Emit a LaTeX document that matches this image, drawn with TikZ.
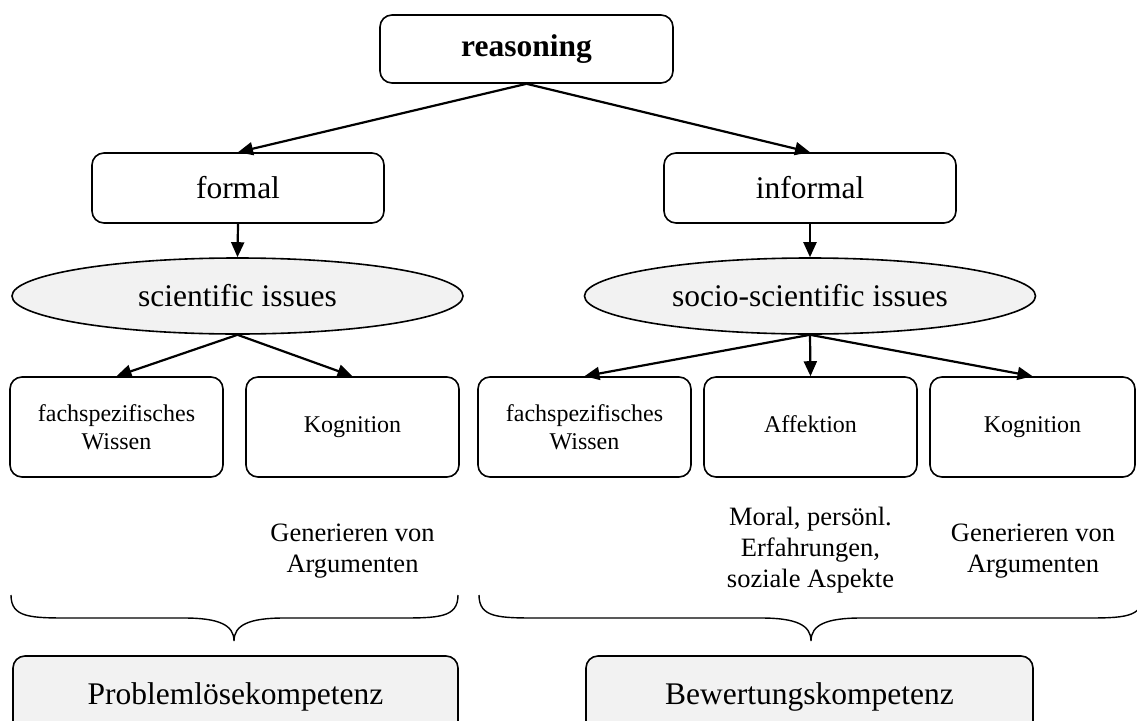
\documentclass[tikz,border=0pt]{standalone}
\usepackage{fontspec}
\setmainfont{Liberation Serif}
\usetikzlibrary{shapes.geometric,arrows.meta}
\definecolor{paleg}{HTML}{F2F2F2}
\begin{document}
\begin{tikzpicture}[x=1pt,y=-1pt,
  box/.style={draw, line width=1.6pt, rounded corners=12pt, inner sep=0pt, align=center},
  topbox/.style={box, minimum width=292pt, minimum height=70pt, font=\fontsize{31.5}{36}\selectfont},
  issue/.style={draw, ellipse, line width=1.6pt, fill=paleg, inner sep=0pt, minimum width=451pt, minimum height=76pt, font=\fontsize{31.5}{36}\selectfont},
  leaf/.style={box, minimum height=100pt, font=\fontsize{24}{28}\selectfont},
  oneline/.style={text height=16pt, text depth=5pt},
  note/.style={align=center, inner sep=0pt, font=\fontsize{26.5}{31}\selectfont},
  comp/.style={box, fill=paleg, minimum height=82pt, font=\fontsize{31.5}{36}\selectfont},
  arr/.style={-{Triangle[length=15pt,width=13pt]}, line width=2.2pt},
  brace/.style={line width=1.4pt}
]
\clip (0,0) rectangle (1137,720);

\node[box, minimum width=293pt, minimum height=68pt, font=\fontsize{31.5}{36}\selectfont\bfseries] (reason) at (526.5,49) {reasoning};
\node[topbox] (formal) at (238,188) {formal};
\node[topbox] (informal) at (810,188) {informal};

\node[issue] (sci) at (237.5,296) {scientific issues};
\node[issue] (socio) at (810,296) {socio-scientific issues};

\node[leaf, minimum width=213pt] (fach1) at (116.5,427) {fachspezifisches\\Wissen};
\node[leaf, oneline, minimum width=213pt] (kog1) at (352.5,427) {Kognition};
\node[leaf, minimum width=213pt] (fach2) at (584.5,427) {fachspezifisches\\Wissen};
\node[leaf, oneline, minimum width=213pt] (aff) at (810.5,427) {Affektion};
\node[leaf, oneline, minimum width=205pt] (kog2) at (1032.5,427) {Kognition};

\draw[arr] (reason.south) -- (formal.north);
\draw[arr] (reason.south) -- (informal.north);
\draw[arr] (formal.south) -- (sci.north);
\draw[arr] (informal.south) -- (socio.north);
\draw[arr] (sci.south) -- (fach1.north);
\draw[arr] (sci.south) -- (kog1.north);
\draw[arr] (socio.south) -- (fach2.north);
\draw[arr] (socio.south) -- (aff.north);
\draw[arr] (socio.south) -- (kog2.north);

\node[note] (gen1) at (352.5,551) {Generieren von\\Argumenten};
\node[note] (moral) at (810.5,550) {Moral, persönl.\\Erfahrungen,\\soziale Aspekte};
\node[note] (gen2) at (1033,551) {Generieren von\\Argumenten};

% braces
\coordinate (la) at (11,595);
\coordinate (lt) at (234,641);
\coordinate (lb) at (458,595);
\draw[brace] (la) .. controls (11,618) and (31,618) .. (71,618) -- (184,618)
  .. controls (219,618) and (234,625) .. (lt)
  .. controls (234,625) and (249,618) .. (284,618) -- (398,618)
  .. controls (438,618) and (458,618) .. (lb);
\coordinate (ra) at (479,595);
\coordinate (rt) at (811,641);
\coordinate (rb) at (1143,595);
\draw[brace] (ra) .. controls (479,618) and (499,618) .. (539,618) -- (761,618)
  .. controls (796,618) and (811,625) .. (rt)
  .. controls (811,625) and (826,618) .. (861,618) -- (1083,618)
  .. controls (1123,618) and (1143,618) .. (rb);

\node[comp, minimum width=445pt] (prob) at (235.5,697) {Problemlösekompetenz};
\node[comp, minimum width=447pt] (bew) at (809.5,697) {Bewertungskompetenz};
\end{tikzpicture}
\end{document}
